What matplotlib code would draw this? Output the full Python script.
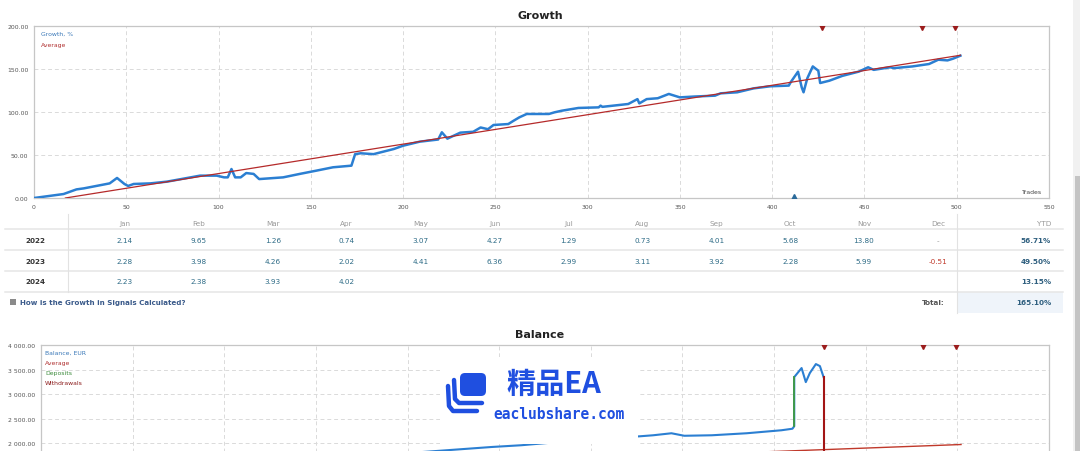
import matplotlib
matplotlib.use('Agg')
import matplotlib.pyplot as plt
from matplotlib.patches import Rectangle, FancyBboxPatch
from matplotlib.ticker import MultipleLocator, FuncFormatter

# ---------------- data ----------------
g_trades = [0, 16, 23, 27, 41, 45, 49, 51, 54, 63, 72, 90, 99, 103, 105, 107, 109, 112, 115, 119,
            122, 135, 144, 153, 162, 172, 174, 177, 184, 195, 200, 209, 219, 221, 224, 231, 238, 242, 246, 249,
            257, 260, 263, 267, 279, 282, 286, 295, 306, 307, 308, 322, 327, 328, 332, 338, 344, 350, 358, 369,
            372, 381, 390, 399, 409, 410, 414, 416, 417, 419, 422, 425, 426, 431, 438, 447, 452, 455, 464, 466,
            476, 485, 490, 495, 498, 502]
g_vals = [0, 4.6, 10, 11.2, 17, 23.3, 16.3, 14, 16.3, 17, 19, 26, 26, 24, 24, 33.7, 24, 24, 29, 28,
          22, 24, 28, 31.8, 35.7, 37.6, 51, 52, 51, 57, 60.8, 65.5, 68, 76.4, 69, 76, 77, 82, 80, 84.9,
          86, 90, 93.8, 97.7, 97.7, 99.6, 101.5, 104.7, 105.4, 107.4, 106, 109.3, 115, 110, 115, 116, 121, 117, 118, 119,
          121.7, 122.9, 127.5, 129.9, 130.7, 134.5, 146.9, 128.7, 122.9, 139, 153, 148, 133.7, 136.4, 142, 147, 152, 149, 152, 151,
          153, 155.8, 160.8, 160, 162, 165.5]
g_avg_trades = [17, 502]
g_avg_vals = [0, 166]

withdraw_marks = [427, 481, 499]
deposit_marks = [412]

b_trades = [200, 246, 262, 290, 327, 334, 344, 351, 366, 385, 404, 410, 411,
            411, 415, 417.3, 419.5, 422.8, 425, 427]
b_vals = [1800, 1925, 1960, 2050, 2143, 2163, 2204, 2153, 2163, 2204, 2265, 2296, 2347,
          3347, 3531, 3245, 3429, 3612, 3571, 3347]
b_avg_trades = [17, 502]
b_avg_vals = [1300, 1975]
dep_trade, dep_from, dep_to = 411, 2347, 3347
wd_trade, wd_from, wd_to = 427, 3347, 1700

months = ['Jan', 'Feb', 'Mar', 'Apr', 'May', 'Jun', 'Jul', 'Aug', 'Sep', 'Oct', 'Nov', 'Dec']
years = ['2022', '2023', '2024']
m2022 = [2.14, 9.65, 1.26, 0.74, 3.07, 4.27, 1.29, 0.73, 4.01, 5.68, 13.80, None]
m2023 = [2.28, 3.98, 4.26, 2.02, 4.41, 6.36, 2.99, 3.11, 3.92, 2.28, 5.99, -0.51]
m2024 = [2.23, 2.38, 3.93, 4.02]
ytd = [56.71, 49.50, 13.15]
total = 165.10

# ---------------- figure ----------------
W, H = 1080, 452
fig = plt.figure(figsize=(10.8, 4.52), dpi=100)
fig.patch.set_facecolor('white')


def ax_rect(l, t, r, b):
    return [l / W, 1 - b / H, (r - l) / W, (b - t) / H]


BLUE = '#2b7fd2'
RED = '#b52a2a'
GRID = '#dadada'
TXT = '#555555'


def style(ax):
    for s in ax.spines.values():
        s.set_color('#c6c6c6')
        s.set_linewidth(0.9)
    ax.grid(True, color=GRID, linestyle=(0, (4, 3)), linewidth=0.7)
    ax.set_axisbelow(True)
    ax.tick_params(length=0, labelsize=4.4, labelcolor=TXT, pad=4)
    ax.set_facecolor('white')


# Growth chart
ax1 = fig.add_axes(ax_rect(34, 27, 1049, 199))
style(ax1)
ax1.set_xlim(0, 550)
ax1.set_ylim(0, 200)
ax1.xaxis.set_major_locator(MultipleLocator(50))
ax1.yaxis.set_major_locator(MultipleLocator(50))
ax1.yaxis.set_major_formatter(FuncFormatter(lambda v, p: f"{v:.2f}"))
ax1.plot(g_trades, g_vals, color=BLUE, lw=1.8, solid_joinstyle='round', zorder=3)
ax1.plot(g_avg_trades, g_avg_vals, color=RED, lw=0.9, zorder=4)
ax1.plot(withdraw_marks, [200] * len(withdraw_marks), 'v', color='#9b1c1c', ms=6, zorder=5)
ax1.plot(deposit_marks, [0] * len(deposit_marks), '^', color='#2a6a9a', ms=6, zorder=5)
ax1.text(0.007, 0.955, 'Growth, %', transform=ax1.transAxes, fontsize=4.4, color='#3a78b8', va='center')
ax1.text(0.007, 0.895, 'Average', transform=ax1.transAxes, fontsize=4.4, color='#b03030', va='center')
ax1.text(0.993, 0.04, 'Trades', transform=ax1.transAxes, fontsize=4.4, color='#444444', ha='right', va='center')

# Balance chart (extends below the visible area, like the cropped screenshot)
ax2 = fig.add_axes(ax_rect(41, 346, 1049, 518))
style(ax2)
ax2.set_xlim(0, 550)
ax2.set_ylim(500, 4000)
ax2.xaxis.set_major_locator(MultipleLocator(50))
ax2.yaxis.set_major_locator(MultipleLocator(500))
ax2.tick_params(labelbottom=False)
ax2.yaxis.set_major_formatter(FuncFormatter(lambda v, p: f"{v:,.2f}".replace(',', ' ') if v >= 2000 else ''))
ax2.plot(b_trades, b_vals, color=BLUE, lw=1.5, zorder=3)
ax2.plot(b_avg_trades, b_avg_vals, color='#c0392b', lw=1.0, zorder=4)
ax2.plot([dep_trade, dep_trade], [dep_from, dep_to], color='#3f9a3f', lw=1.3, zorder=4)
ax2.plot([wd_trade, wd_trade], [wd_from, wd_to], color='#a31515', lw=1.5, zorder=4)
ax2.plot(withdraw_marks, [4000] * len(withdraw_marks), 'v', color='#9b1c1c', ms=6, zorder=5)
for i, (lab, col) in enumerate([('Balance, EUR', '#3a78b8'), ('Average', '#b03030'),
                                ('Deposits', '#3a8a3a'), ('Withdrawals', '#8b1a1a')]):
    ax2.text(4 / 1.833, 4000 - (7 + 10.3 * i) * 20.35, lab, fontsize=4.4, color=col, va='center')

# ---------------- overlay (pixel coords) ----------------
ov = fig.add_axes([0, 0, 1, 1], zorder=10)
ov.set_xlim(0, W)
ov.set_ylim(H, 0)
ov.axis('off')
ov.patch.set_alpha(0)

ov.text(540, 16, 'Growth', ha='center', va='center', fontsize=8, fontweight='bold', color='#222222')
ov.text(540, 335, 'Balance', ha='center', va='center', fontsize=8, fontweight='bold', color='#222222')

# table
col_x = [125 + 73.9 * i for i in range(12)]
hdr_y, row_y, tot_y = 224, [241, 262, 282], 303
for y in [230, 251, 272, 293]:
    ov.plot([5, 1063], [y, y], color='#e6e6e6', lw=1.1)
ov.plot([68, 68], [215, 293], color='#e2e2e2', lw=0.8)
ov.plot([957, 957], [215, 314], color='#e2e2e2', lw=0.8)
ov.add_patch(Rectangle((957, 293), 106, 21, facecolor='#eff4fa', edgecolor='none'))

for m, x in zip(months, col_x):
    ov.text(x, hdr_y, m, ha='center', va='center', fontsize=5.2, color='#999999')
ov.text(1051, hdr_y, 'YTD', ha='right', va='center', fontsize=5.2, color='#999999')

VAL = '#2d6b86'
for yr, vals, y, yt in zip(years, [m2022, m2023, m2024], row_y, ytd):
    ov.text(35, y, yr, ha='center', va='center', fontsize=5.2, fontweight='bold', color='#333333')
    for v, x in zip(vals, col_x):
        if v is None:
            ov.text(x, y, '-', ha='center', va='center', fontsize=5.2, color='#999999')
        else:
            ov.text(x, y, f"{v:.2f}", ha='center', va='center', fontsize=5.2,
                    color='#c0392b' if v < 0 else VAL)
    ov.text(1051, y, f"{yt:.2f}%", ha='right', va='center', fontsize=5.2, fontweight='bold', color='#2f5f7f')

ov.text(945, tot_y, 'Total:', ha='right', va='center', fontsize=5.2, fontweight='bold', color='#555555')
ov.text(1051, tot_y, f"{total:.2f}%", ha='right', va='center', fontsize=5.2, fontweight='bold', color='#2f5f7f')
ov.add_patch(Rectangle((10, 300), 5.5, 5.5, facecolor='#8a8a8a', edgecolor='none'))
ov.text(20, tot_y, 'How is the Growth in Signals Calculated?', ha='left', va='center',
        fontsize=5.1, fontweight='bold', color='#3a5a8a')

# watermark
ov.add_patch(Rectangle((440, 358), 198, 87, facecolor='white', edgecolor='none', zorder=5))
WM = '#1f4fe0'
ov.add_patch(FancyBboxPatch((460, 374), 26, 23, boxstyle='round,pad=0,rounding_size=5',
                            facecolor=WM, edgecolor='none', zorder=6))
ov.plot([454, 455, 459, 482], [381, 400, 404, 404], color=WM, lw=3.2, solid_capstyle='round',
        solid_joinstyle='round', zorder=6)
ov.plot([448, 449, 453, 477], [387, 407, 412, 412], color=WM, lw=3.2, solid_capstyle='round',
        solid_joinstyle='round', zorder=6)
ov.text(506, 384, '精品EA', ha='left', va='center', fontsize=21, fontweight='bold', color=WM,
        family=['Noto Sans CJK SC', 'DejaVu Sans'], zorder=7)
ov.text(493, 415, 'eaclubshare.com', ha='left', va='center', fontsize=10.5, fontweight='bold', color=WM,
        family=['DejaVu Sans Mono'], zorder=7)

# scrollbar
ov.add_patch(Rectangle((1073, 0), 7, H, facecolor='#f1f1f1', edgecolor='none'))
ov.add_patch(Rectangle((1075, 177), 5, H - 177, facecolor='#c4c4c4', edgecolor='none'))

fig.savefig('out.png', dpi=100, facecolor='white')
